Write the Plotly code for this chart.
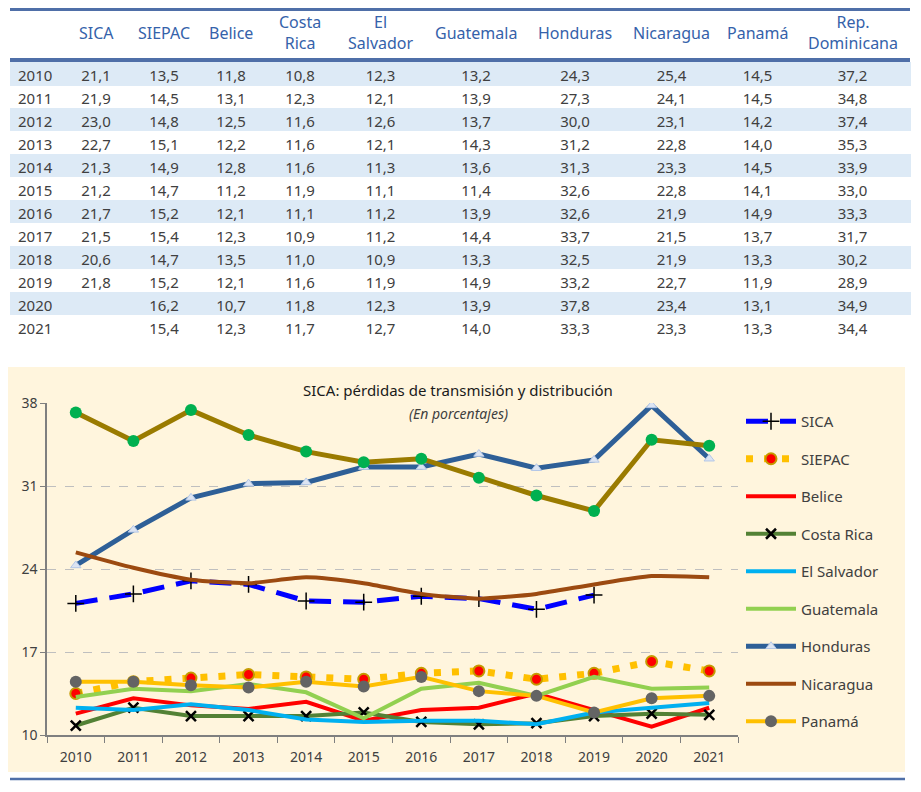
import plotly.graph_objects as go

years = ['2010', '2011', '2012', '2013', '2014', '2015', '2016', '2017', '2018', '2019', '2020', '2021']

sica = [21.1, 21.9, 23.0, 22.7, 21.3, 21.2, 21.7, 21.5, 20.6, 21.8, None, None]
siepac = [13.5, 14.5, 14.8, 15.1, 14.9, 14.7, 15.2, 15.4, 14.7, 15.2, 16.2, 15.4]
belice = [11.8, 13.1, 12.5, 12.2, 12.8, 11.2, 12.1, 12.3, 13.5, 12.1, 10.7, 12.3]
costa_rica = [10.8, 12.3, 11.6, 11.6, 11.6, 11.9, 11.1, 10.9, 11.0, 11.6, 11.8, 11.7]
el_salvador = [12.3, 12.1, 12.6, 12.1, 11.3, 11.1, 11.2, 11.2, 10.9, 11.9, 12.3, 12.7]
guatemala = [13.2, 13.9, 13.7, 14.3, 13.6, 11.4, 13.9, 14.4, 13.3, 14.9, 13.9, 14.0]
honduras = [24.3, 27.3, 30.0, 31.2, 31.3, 32.6, 32.6, 33.7, 32.5, 33.2, 37.8, 33.3]
nicaragua = [25.4, 24.1, 23.1, 22.8, 23.3, 22.8, 21.9, 21.5, 21.9, 22.7, 23.4, 23.3]
panama = [14.5, 14.5, 14.2, 14.0, 14.5, 14.1, 14.9, 13.7, 13.3, 11.9, 13.1, 13.3]
rep_dom = [37.2, 34.8, 37.4, 35.3, 33.9, 33.0, 33.3, 31.7, 30.2, 28.9, 34.9, 34.4]

headers = ['', 'SICA', 'SIEPAC', 'Belice', 'Costa<br>Rica', 'El<br>Salvador', 'Guatemala',
           'Honduras', 'Nicaragua', 'Panamá', 'Rep.<br>Dominicana']
series = [sica, siepac, belice, costa_rica, el_salvador, guatemala, honduras, nicaragua, panama, rep_dom]

col_w = [52, 68, 68, 66, 72, 89, 102, 96, 97, 75, 115]

# the page body has an 8px margin, so the figure is shifted by 8px
OFF = 8
W, H = 921 - OFF, 792 - OFF


def px(x):
    return (x - OFF) / W


def py(y):
    return min(1, 1 - (y - OFF) / H)


FONT = 'Noto Sans'
BLUE_HEAD = '#3562AA'
RULE = '#4F6FA8'
BAND = '#DDEAF6'


def fmt(v):
    return '' if v is None else f'{v:.1f}'.replace('.', ',')


cols = [years] + [[fmt(v) for v in s] for s in series]
# the 2010 row is used as the table header so the table starts below the header rule
first = [c[0] for c in cols]
rest = [c[1:] for c in cols]
row_fill = ['white' if i % 2 == 0 else BAND for i in range(len(years) - 1)]
fills = [row_fill] * len(cols)
cell_font = dict(family=FONT, size=15, color='#404040')
aligns = ['left'] + ['center'] * 10

fig = go.Figure()

fig.add_trace(go.Table(
    domain=dict(x=[px(10), px(910)], y=[py(345), py(62)]),
    columnwidth=col_w,
    header=dict(values=first, height=23, fill_color=BAND, line_color=BAND,
                align=aligns, font=cell_font),
    cells=dict(values=rest, height=23, fill_color=fills, line_color=fills,
               align=aligns, font=cell_font)
))

# table rules as one-row tables (shapes end up hidden under the table layer)
for y_top, thick in [(8, 3), (58, 3.5)]:
    fig.add_trace(go.Table(
        domain=dict(x=[px(10), px(910)], y=[py(y_top + thick + 1), py(y_top)]),
        header=dict(values=[''], height=thick, fill_color=RULE, line=dict(color=RULE, width=0),
                    font=dict(size=1)),
        cells=dict(values=[[]], height=0, fill_color=RULE, line=dict(color=RULE, width=0))
    ))

# header labels
x0 = 10
for w, h in zip(col_w, headers):
    if h:
        fig.add_annotation(x=px(x0 + w / 2), y=py(33), xref='paper', yref='paper',
                           text=h, showarrow=False, xanchor='center', yanchor='middle',
                           font=dict(family=FONT, size=16, color=BLUE_HEAD))
    x0 += w

# line chart
styles = [
    ('SICA', sica, dict(color='#0000FF', width=5, dash='22px,12px'),
     dict(symbol='cross-thin', size=12, line=dict(color='black', width=1.5)), 'lines+markers'),
    ('SIEPAC', siepac, dict(color='#FFC000', width=7, dash='7px,11px'),
     dict(symbol='circle', size=11, color='#FF0000', line=dict(color='#C59A00', width=2)), 'lines+markers'),
    ('Belice', belice, dict(color='#FF0000', width=4), None, 'lines'),
    ('Costa Rica', costa_rica, dict(color='#538135', width=4),
     dict(symbol='x-thin', size=10, line=dict(color='black', width=2.5)), 'lines+markers'),
    ('El Salvador', el_salvador, dict(color='#00B0F0', width=4), None, 'lines'),
    ('Guatemala', guatemala, dict(color='#92D050', width=4), None, 'lines'),
    ('Honduras', honduras, dict(color='#2E5F97', width=5),
     dict(symbol='triangle-up', size=9, color='#DCE4F2', line=dict(color='#B4C7E7', width=1)), 'lines+markers'),
    ('Nicaragua', nicaragua, dict(color='#9C4A10', width=4, shape='spline', smoothing=0.6), None, 'lines'),
    ('Panamá', panama, dict(color='#FFC000', width=4),
     dict(symbol='circle', size=12, color='#646464'), 'lines+markers'),
]

for i, (name, vals, line, marker, mode) in enumerate(styles):
    fig.add_trace(go.Scatter(x=years, y=vals, name=name, mode=mode, line=line,
                             marker=marker, legendgroup=f'g{i}', connectgaps=False))

fig.add_trace(go.Scatter(x=years, y=rep_dom, name='Rep. Dominicana', mode='lines+markers',
                         line=dict(color='#9A7B00', width=5),
                         marker=dict(symbol='circle', size=12, color='#00B050'),
                         showlegend=False))

# cream panel and bottom rule
fig.add_shape(type='rect', xref='paper', yref='paper', x0=px(8), x1=px(905),
              y0=py(772), y1=py(367), fillcolor='#FFF5DD', line_width=0, layer='below')
fig.add_shape(type='line', xref='paper', yref='paper', x0=px(10), x1=px(905),
              y0=py(779), y1=py(779), line=dict(color=RULE, width=2.5))

fig.add_annotation(x=px(458), y=py(390), xref='paper', yref='paper', showarrow=False,
                   text='SICA: pérdidas de transmisión y distribución',
                   font=dict(family=FONT, size=15, color='#1A1A1A'))
fig.add_annotation(x=px(458), y=py(413), xref='paper', yref='paper', showarrow=False,
                   text='<i>(En porcentajes)</i>',
                   font=dict(family=FONT, size=14, color='#404040'))

fig.update_xaxes(domain=[px(47), px(738)], type='category', range=[-0.5, 11.5],
                 showline=True, linecolor='#7F7F7F',
                 linewidth=1.5, ticks='outside', tickson='boundaries', ticklen=6, tickcolor='#7F7F7F',
                 showgrid=False, automargin=False, ticklabelstandoff=8,
                 tickfont=dict(family=FONT, size=14, color='#404040'))
fig.update_yaxes(domain=[py(735), py(403)], range=[10, 38], tickvals=[10, 17, 24, 31, 38],
                 showline=True, linecolor='#7F7F7F', linewidth=1.5, ticks='outside', ticklen=5,
                 tickcolor='#7F7F7F', showgrid=True, gridcolor='#BFBFBF', griddash='dash',
                 gridwidth=1, zeroline=False, automargin=False,
                 tickfont=dict(family=FONT, size=14, color='#404040'))

fig.update_layout(
    width=W, height=H, margin=dict(l=0, r=0, t=0, b=0, autoexpand=False),
    paper_bgcolor='white', plot_bgcolor='rgba(0,0,0,0)',
    font=dict(family=FONT, color='#404040'),
    legend=dict(x=px(741), y=py(405), xanchor='left', yanchor='top',
                bgcolor='rgba(0,0,0,0)', itemwidth=50, tracegroupgap=15,
                font=dict(family=FONT, size=15, color='#404040')),
)

fig.write_html('out.html')
